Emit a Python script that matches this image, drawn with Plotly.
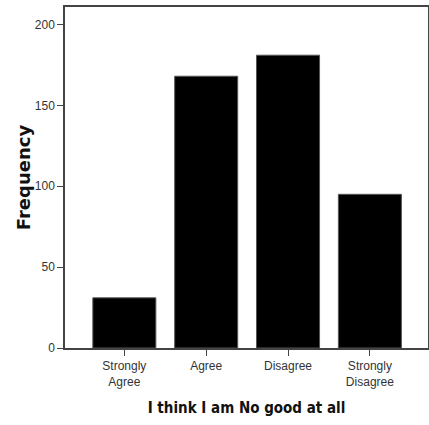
import plotly.graph_objects as go

categories = ["Strongly<br>Agree", "Agree", "Disagree", "Strongly<br>Disagree"]
frequency = [31, 168, 181, 95]
y_ticks = [0, 50, 100, 150, 200]

fig = go.Figure(go.Bar(
    x=list(range(len(categories))),
    y=frequency,
    width=0.77,
    marker=dict(color="black", line=dict(color="#555555", width=1)),
))

TICKFONT = "Liberation Sans, Arial"
TITLEX = "DejaVu Sans Condensed, DejaVu Sans, Liberation Sans"

fig.update_layout(
    width=429, height=425,
    margin=dict(l=65, r=1, t=7, b=77),
    paper_bgcolor="white", plot_bgcolor="white",
    showlegend=False,
    font=dict(family=TICKFONT, color="#333333"),
)
fig.update_xaxes(
    tickvals=list(range(len(categories))), ticktext=categories,
    range=[-0.725, 3.71], automargin=False,
    showline=True, linecolor="#444444", linewidth=1.5, mirror=True,
    ticks="outside", ticklen=6, tickcolor="#444444",
    tickfont=dict(size=12),
    showgrid=False, zeroline=False,
    title=dict(text="<b>I think I am No good at all</b>",
               font=dict(size=15, family=TITLEX, color="#111111"),
               standoff=15),
)
fig.update_yaxes(
    tickvals=y_ticks, range=[0, 210.8], automargin=False,
    showline=True, linecolor="#444444", linewidth=1.5, mirror=True,
    ticks="outside", ticklen=6, tickcolor="#444444",
    tickfont=dict(size=12),
    showgrid=False, zeroline=False,
    title=dict(text="<b>Frequency</b>",
               font=dict(size=18, family="DejaVu Sans, Liberation Sans", color="#111111"),
               standoff=0),
)

fig.write_html("out.html", config={"displayModeBar": False},
               post_script="document.body.style.margin='0';")
